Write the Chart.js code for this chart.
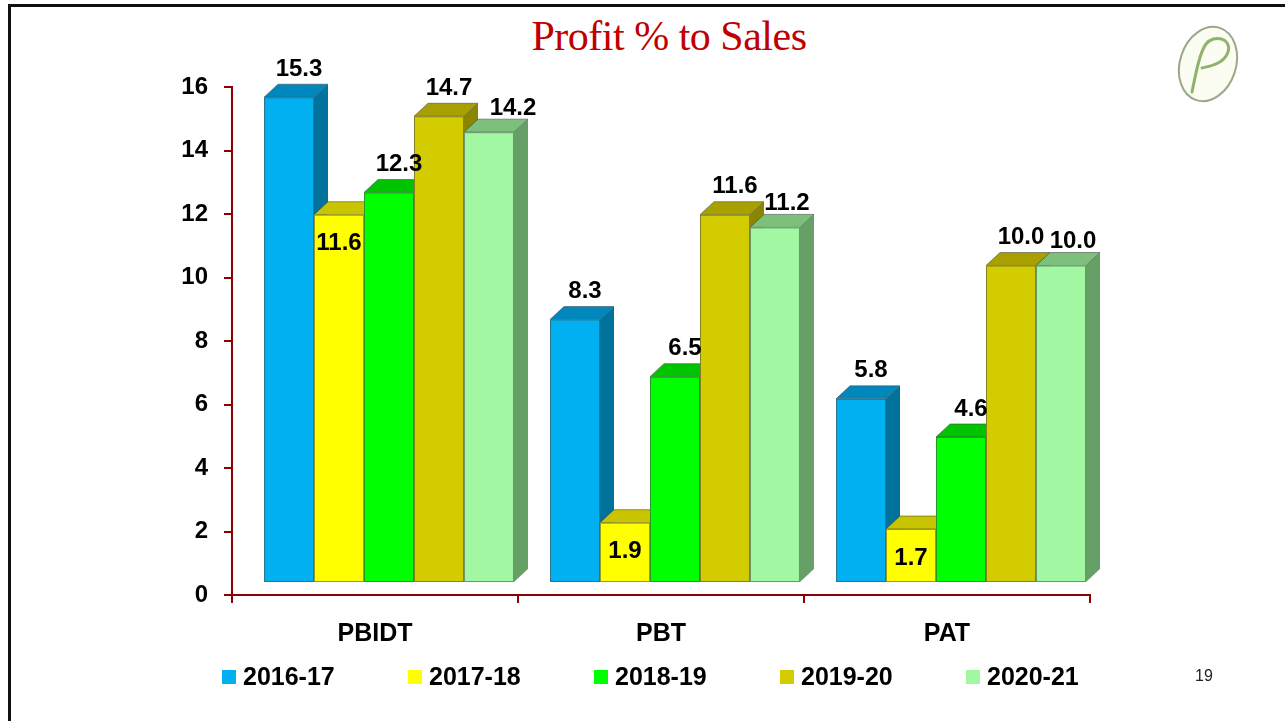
<!DOCTYPE html>
<html>
<head>
<meta charset="utf-8">
<script src="https://cdn.jsdelivr.net/npm/chart.js@4.4.1/dist/chart.umd.min.js"></script>
<style>
  html, body { margin: 0; padding: 0; background: #fff; }
  #slide { position: relative; width: 1285px; height: 721px; overflow: hidden; font-family: "Liberation Sans", Arial, sans-serif; }
  #slide .top-line { position: absolute; left: 8px; right: 0; top: 4px; height: 3px; background: #111; }
  #slide .left-line { position: absolute; left: 8px; top: 4px; bottom: 0; width: 3px; background: #111; }
  #title { position: absolute; left: 0; width: 1338px; top: 12px; text-align: center; font-family: "Liberation Serif", "Times New Roman", serif; font-size: 42px; color: #C00000; letter-spacing: -0.5px; }
  #logo { position: absolute; left: 1170px; top: 22px; }
  #chart-wrap { position: absolute; left: 0; top: 0; width: 1285px; height: 721px; }
  #legend { position: absolute; top: 662px; left: 222px; display: flex; font-weight: bold; font-size: 25px; }
  #legend .item { display: flex; align-items: center; width: 186px; }
  #legend .box { width: 14px; height: 14px; margin-right: 7px; flex: none; }
  #page { position: absolute; left: 1195px; top: 667px; font-size: 16px; color: #222; }
</style>
</head>
<body>
<div id="slide">
  <div class="top-line"></div>
  <div class="left-line"></div>
  <div id="title">Profit % to Sales</div>
  <svg id="logo" width="80" height="85" viewBox="0 0 80 85">
    <ellipse cx="38" cy="42" rx="28" ry="38" transform="rotate(18 38 42)" fill="#fbfdf3" stroke="#9aa88a" stroke-width="2"/>
    <path d="M22 70 C 26 50, 30 30, 36 22 C 44 12, 62 16, 58 30 C 54 42, 40 44, 32 46" fill="none" stroke="#8fb36a" stroke-width="3" stroke-linecap="round"/>
  </svg>
  <div id="chart-wrap"><canvas id="profit-chart"></canvas></div>
  <div id="legend"></div>
  <div id="page">19</div>
</div>

<script>
// data ===========================================================

const categories = ['PBIDT', 'PBT', 'PAT'];
const years = ['2016-17', '2017-18', '2018-19', '2019-20', '2020-21'];

const fy1617 = [15.3, 8.3, 5.8];
const fy1718 = [11.6, 1.9, 1.7];
const fy1819 = [12.3, 6.5, 4.6];
const fy1920 = [14.7, 11.6, 10.0];
const fy2021 = [14.2, 11.2, 10.0];

const yTicks = [0, 2, 4, 6, 8, 10, 12, 14, 16];

// colours: front, top, side
const faceColors = [
  ['#00B0F0', '#0088BE', '#00729C'],
  ['#FFFF00', '#C8C400', '#9C9A00'],
  ['#00FF00', '#00C400', '#009A00'],
  ['#D2CC00', '#A8A000', '#8A8600'],
  ['#A2F8A2', '#7CC07C', '#66A066']
];
const seriesData = [fy1617, fy1718, fy1819, fy1920, fy2021];

// 3d bars =========================================================

const SHIFT_X = 14, SHIFT_Y = -12;   // floor offset of the 3d plot
const DEPTH_X = 14, DEPTH_Y = 13;    // bar depth
const LABEL_FONT = 'bold 24px "Liberation Sans", Arial, sans-serif';

function drawBar3d(ctx, bar, cols) {
  const p = bar.getProps(['x', 'y', 'base', 'width'], true);
  const L = p.x - p.width / 2, R = p.x + p.width / 2, T = p.y, B = p.base;
  // side
  ctx.fillStyle = cols[2];
  ctx.beginPath();
  ctx.moveTo(R, T); ctx.lineTo(R + DEPTH_X, T - DEPTH_Y);
  ctx.lineTo(R + DEPTH_X, B - DEPTH_Y); ctx.lineTo(R, B);
  ctx.closePath(); ctx.fill();
  // top
  ctx.fillStyle = cols[1];
  ctx.beginPath();
  ctx.moveTo(L, T); ctx.lineTo(R, T);
  ctx.lineTo(R + DEPTH_X, T - DEPTH_Y); ctx.lineTo(L + DEPTH_X, T - DEPTH_Y);
  ctx.closePath(); ctx.fill(); ctx.stroke();
  // front
  ctx.fillStyle = cols[0];
  ctx.fillRect(L, T, R - L, B - T);
  ctx.strokeRect(L + 0.5, T + 0.5, R - L - 1, B - T - 1);
}

const bars3d = {
  id: 'bars3d',
  // skip the flat bars, they are drawn below in left-to-right order
  beforeDatasetDraw() {
    return false;
  },
  afterDatasetsDraw(chart) {
    const ctx = chart.ctx;
    ctx.save();
    ctx.translate(SHIFT_X, SHIFT_Y);
    ctx.lineWidth = 1;
    ctx.strokeStyle = 'rgba(70, 70, 70, 0.55)';
    chart.data.datasets.forEach((ds, i) => {
      chart.getDatasetMeta(i).data.forEach(bar => drawBar3d(ctx, bar, faceColors[i]));
    });

    ctx.font = LABEL_FONT;
    ctx.fillStyle = '#000';
    ctx.textAlign = 'center';
    chart.data.datasets.forEach((ds, i) => {
      chart.getDatasetMeta(i).data.forEach((bar, j) => {
        const p = bar.getProps(['x', 'y'], true);
        const txt = ds.data[j].toFixed(1);
        if (i === 1) {
          ctx.textBaseline = 'top';
          ctx.fillText(txt, p.x, p.y + 17);
        } else if (i === 4) {
          ctx.textBaseline = 'bottom';
          ctx.fillText(txt, p.x + (j === 0 ? 24 : 12), p.y - DEPTH_Y + 1);
        } else {
          ctx.textBaseline = 'bottom';
          ctx.fillText(txt, p.x + 10, p.y - DEPTH_Y - 3);
        }
      });
    });
    ctx.restore();
  }
};

// chart ==========================================================

const axisRed = '#8B0000';
const axisFont = (size) => ({ family: '"Liberation Sans", Arial, sans-serif', size: size, weight: 'bold' });

const profitChart = new Chart(document.getElementById('profit-chart'), {
  type: 'bar',
  data: {
    labels: categories,
    datasets: years.map((y, i) => ({
      label: y,
      data: seriesData[i],
      backgroundColor: faceColors[i][0],
      categoryPercentage: 0.874,
      barPercentage: 1.0
    }))
  },
  options: {
    responsive: true,
    maintainAspectRatio: false,
    animation: false,
    layout: { padding: { left: 0, right: 195, top: 87, bottom: 0 } },
    plugins: {
      legend: { display: false },
      tooltip: { enabled: false }
    },
    scales: {
      y: {
        min: 0,
        max: 16,
        afterFit: (scale) => { scale.width = 232; },
        afterBuildTicks: (scale) => { scale.ticks = yTicks.map(v => ({ value: v })); },
        border: { color: axisRed, width: 2 },
        grid: { drawOnChartArea: false, drawTicks: true, tickLength: 8, color: axisRed, lineWidth: 2 },
        ticks: { color: '#000', padding: 16, font: axisFont(24) }
      },
      x: {
        afterFit: (scale) => { scale.height = 126; },
        border: { color: axisRed, width: 2 },
        grid: { drawOnChartArea: false, drawTicks: true, tickLength: 8, color: axisRed, lineWidth: 2 },
        ticks: { color: '#000', padding: 16, font: axisFont(25) }
      }
    }
  },
  plugins: [bars3d]
});

// legend =========================================================

const legendEl = document.getElementById('legend');
years.forEach((y, i) => {
  const item = document.createElement('div');
  item.className = 'item';
  item.innerHTML = '<span class="box" style="background:' + faceColors[i][0] + '"></span>' + y;
  legendEl.appendChild(item);
});

window.addEventListener('resize', () => {
  profitChart.resize();
});
</script>
</body>
</html>
